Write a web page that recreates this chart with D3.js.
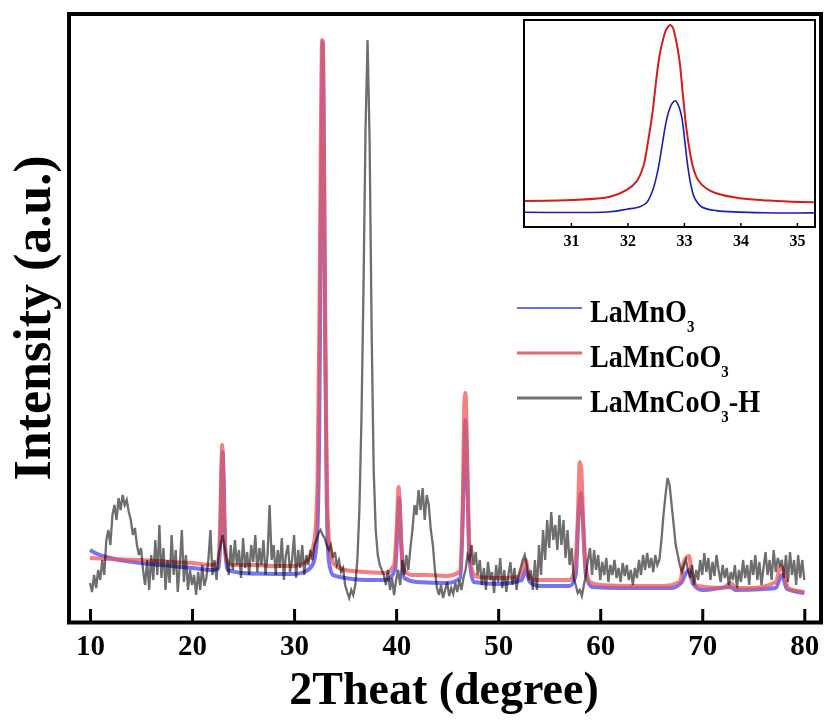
<!DOCTYPE html>
<html><head><meta charset="utf-8">
<script src="https://cdn.jsdelivr.net/npm/d3@7"></script>
<style>body{margin:0;background:#fff} svg{display:block}</style>
</head><body>
<svg id="c" width="824" height="725"></svg>
<script>
// ---------- data ----------
const xTicks = [10, 20, 30, 40, 50, 60, 70, 80];
const insetTicks = [31, 32, 33, 34, 35];
const legendLabels = [["LaMnO", "3", ""], ["LaMnCoO", "3", ""], ["LaMnCoO", "3", "-H"]];

// LaMnO3  [2theta, intensity]
const lamno3 = [[10,72],[10.5,69],[12,64],[15,59],[18,56],[20,54],[22,52],[22.6,54],[22.8,92],[22.9,152],[23.0,170],[23.1,142],[23.25,72],[23.5,52],[25,49],[28,48],[30,48],[31,50],[31.8,57],[32.2,77],[32.45,172],[32.6,372],[32.75,542],[32.8,580],[32.9,502],[33.05,272],[33.2,122],[33.4,62],[33.8,47],[35,44],[37,42],[39,42],[39.9,52],[40.1,87],[40.3,124],[40.5,77],[40.8,44],[42,40],[45,39],[46.3,44],[46.6,132],[46.8,202],[46.95,152],[47.2,62],[47.6,40],[50,38],[52.3,42],[52.7,52],[53.1,40],[54,36],[57,36],[57.6,47],[57.9,112],[58.1,129],[58.3,102],[58.6,47],[59.2,35],[62,34],[67,34],[68.0,40],[68.4,49],[68.7,52],[69.1,38],[70,32],[72.8,35],[73.2,32],[77.2,34],[77.8,47],[78.3,33],[80,29]];

// LaMnCoO3
const lamncoo3 = [[10,64],[12,63],[15,62],[18,60],[20,59],[22,57],[22.5,59],[22.7,82],[22.85,142],[22.95,177],[23.05,152],[23.2,82],[23.4,62],[24,57],[26,57],[28,56],[30,56],[31,59],[31.6,67],[32.0,82],[32.3,142],[32.5,322],[32.65,522],[32.75,582],[32.85,562],[33.0,372],[33.15,192],[33.3,102],[33.6,67],[34,57],[35,52],[37,50],[39,49],[39.8,57],[40.05,92],[40.25,135],[40.45,92],[40.7,54],[41.5,47],[43,47],[45,46],[46.2,50],[46.5,102],[46.7,222],[46.8,229],[46.95,172],[47.15,82],[47.5,50],[48,45],[50,44],[52,45],[52.4,52],[52.7,62],[53.0,47],[53.5,42],[55,42],[57,42],[57.5,52],[57.8,102],[58.0,160],[58.15,152],[58.35,92],[58.6,54],[59,40],[60,37],[63,36],[66,36],[67.8,40],[68.2,60],[68.4,64],[68.7,66],[69.0,47],[69.5,36],[72,34],[72.8,39],[73.3,34],[75,34],[77.2,40],[77.7,56],[78.0,50],[78.4,34],[80,30]];

// LaMnCoO3-H, sampled every 0.2 degree from 10.0 to 80.0
const hStart = 10, hStep = 0.2;
const lamncoo3H = [
 39,30,47,34,52,42,
 62,47,82,92,77,107,117,102,124,112,127,117,122,110,102,87,94,77,67,74,
 52,37,62,32,67,42,82,47,97,44,74,32,62,39,87,47,72,30,57,92,40,67,32,52,37,47,27,50,32,57,36,44,62,92,47,62,42,67,
 77,87,74,62,
 47,77,52,82,57,72,44,84,54,70,47,77,60,87,50,74,57,82,47,67,117,62,77,47,72,54,84,42,67,77,50,62,87,44,72,54,77,47,67,57,
 72,62,77,82,89,92,87,84,77,72,77,64,70,57,62,50,54,37,
 30,24,32,27,
 37,62,112,202,332,492,582,482,292,152,92,67,57,52,47,
 37,52,32,44,27,42,52,37,62,47,67,52,74,
 92,117,107,132,112,134,102,127,117,92,77,52,
 34,27,37,24,32,40,26,34,28,39,30,42,32,44,
 52,67,62,77,57,70,47,
 62,37,54,32,60,42,50,29,57,40,64,34,52,30,47,60,37,54,32,47,
 54,62,67,57,42,52,32,
 62,32,77,47,92,62,102,74,110,82,97,72,107,77,102,64,92,57,74,44,
 37,29,32,26,37,47,
 62,74,47,72,52,67,42,60,47,64,40,57,47,62,44,54,40,59,46,57,42,52,37,54,44,62,47,67,52,69,54,64,50,67,57,62,
 82,107,127,144,137,117,97,77,67,57,50,
 57,62,52,44,57,37,52,42,62,47,69,50,64,42,60,46,67,52,40,57,44,54,37,50,42,57,34,52,40,62,44,57,37,62,47,67,42,60,37,54,70,47,62,42,72,50,64,57,62,44,67,40,70,47,62,37,67,44,62,42
];

// inset (zoom of the main peak)
const insetRed = [[30.18,12.6],[31.0,13.0],[31.69,14.6],[31.99,17.9],[32.16,21.9],[32.28,29.1],[32.36,40.4],[32.45,56.5],[32.51,71.0],[32.57,83.0],[32.63,90.5],[32.69,95.5],[32.76,97.6],[32.80,96.5],[32.86,90.3],[32.92,80.7],[32.98,64.6],[33.04,48.5],[33.10,37.2],[33.16,29.1],[33.25,22.7],[33.39,18.7],[33.57,16.3],[33.99,13.9],[34.63,12.6],[35.30,11.9]];
const insetBlue = [[30.18,7.1],[31.69,7.4],[31.99,8.6],[32.22,9.8],[32.34,11.7],[32.45,17.9],[32.54,27.5],[32.62,40.4],[32.68,50.1],[32.74,56.5],[32.80,60.0],[32.85,61.0],[32.90,58.9],[32.96,53.3],[33.02,40.4],[33.07,29.1],[33.13,19.5],[33.19,13.9],[33.31,9.8],[33.57,7.9],[35.30,6.8]];

// ---------- drawing ----------
const svg = d3.select("#c");
const serif = "'Liberation Serif','Times New Roman',serif";

const x = d3.scaleLinear().domain([10, 80]).range([90, 804.3]);
const y = d3.scaleLinear().domain([0, 608]).range([622, 14]);

const hData = lamncoo3H.map((v, i) => [hStart + i * hStep, v]);

const smooth = d3.line().x(d => x(d[0])).y(d => y(d[1])).curve(d3.curveMonotoneX);
const straight = d3.line().x(d => x(d[0])).y(d => y(d[1]));

const plot = svg.append("g");
plot.append("path").attr("d", smooth(lamno3)).attr("fill", "none")
  .attr("stroke", "#5c5cf2").attr("stroke-width", 4).attr("opacity", 0.85);
plot.append("path").attr("d", smooth(lamncoo3)).attr("fill", "none")
  .attr("stroke", "#f05656").attr("stroke-width", 4).attr("opacity", 0.75);
plot.append("path").attr("d", straight(hData)).attr("fill", "none")
  .attr("stroke", "#6e6e6e").attr("stroke-width", 2.3)
  .style("mix-blend-mode", "multiply");

// frame
svg.append("rect").attr("x", 69).attr("y", 14).attr("width", 752).attr("height", 608.5)
  .attr("fill", "none").attr("stroke", "#000").attr("stroke-width", 4);

// bottom axis
const ax = svg.append("g").attr("transform", "translate(0,622)")
  .call(d3.axisBottom(x).tickValues(xTicks).tickSize(-13).tickSizeOuter(0).tickFormat(d3.format("d")));
ax.select(".domain").remove();
ax.selectAll(".tick line").attr("stroke", "#000").attr("stroke-width", 3);
ax.selectAll(".tick text").attr("y", 33).attr("dy", null)
  .attr("font-family", serif).attr("font-weight", "bold").attr("font-size", 29).attr("fill", "#000");

// axis titles
svg.append("text").attr("x", 444).attr("y", 704).attr("text-anchor", "middle")
  .attr("font-family", serif).attr("font-weight", "bold").attr("font-size", 46)
  .text("2Theat (degree)");
svg.append("text").attr("transform", "translate(50,318) rotate(-90)").attr("text-anchor", "middle")
  .attr("font-family", serif).attr("font-weight", "bold").attr("font-size", 52)
  .text("Intensity (a.u.)");

// legend
const legColors = ["#6a6aee", "#e06868", "#737373"];
const legWidths = [2, 3, 3];
legendLabels.forEach((lab, i) => {
  const ly = 308 + i * 45;
  svg.append("line").attr("x1", 517).attr("x2", 582).attr("y1", ly).attr("y2", ly)
    .attr("stroke", legColors[i]).attr("stroke-width", legWidths[i]);
  const t = svg.append("text").attr("transform", `translate(590,${ly + 14}) scale(0.88,1)`)
    .attr("font-family", serif).attr("font-weight", "bold").attr("font-size", 32).attr("fill", "#000");
  t.append("tspan").text(lab[0]);
  t.append("tspan").attr("font-size", 17).attr("dy", 10).text(lab[1]);
  if (lab[2]) t.append("tspan").attr("dy", -10).text(lab[2]);
});

// inset
const xi = d3.scaleLinear().domain([30.17, 35.32]).range([524, 815]);
const yi = d3.scaleLinear().domain([0, 100]).range([227, 20]);
const ins = svg.append("g");
ins.append("rect").attr("x", 524).attr("y", 20).attr("width", 291).attr("height", 207)
  .attr("fill", "#fff").attr("stroke", "none");
const iline = d3.line().x(d => xi(d[0])).y(d => yi(d[1])).curve(d3.curveCatmullRom.alpha(0.5));
ins.append("path").attr("d", iline(insetBlue)).attr("fill", "none").attr("stroke", "#1c1cb4").attr("stroke-width", 1.6);
ins.append("path").attr("d", iline(insetRed)).attr("fill", "none").attr("stroke", "#d41c1c").attr("stroke-width", 2);
ins.append("rect").attr("x", 524).attr("y", 20).attr("width", 291).attr("height", 207)
  .attr("fill", "none").attr("stroke", "#000").attr("stroke-width", 2);
const iax = ins.append("g").attr("transform", "translate(0,227)")
  .call(d3.axisBottom(xi).tickValues(insetTicks).tickSize(-4).tickSizeOuter(0).tickFormat(d3.format("d")));
iax.select(".domain").remove();
iax.selectAll(".tick line").attr("stroke", "#000").attr("stroke-width", 1.5);
iax.selectAll(".tick text").attr("y", 19).attr("dy", null)
  .attr("font-family", serif).attr("font-weight", "bold").attr("font-size", 16).attr("fill", "#000");
</script>
</body></html>
